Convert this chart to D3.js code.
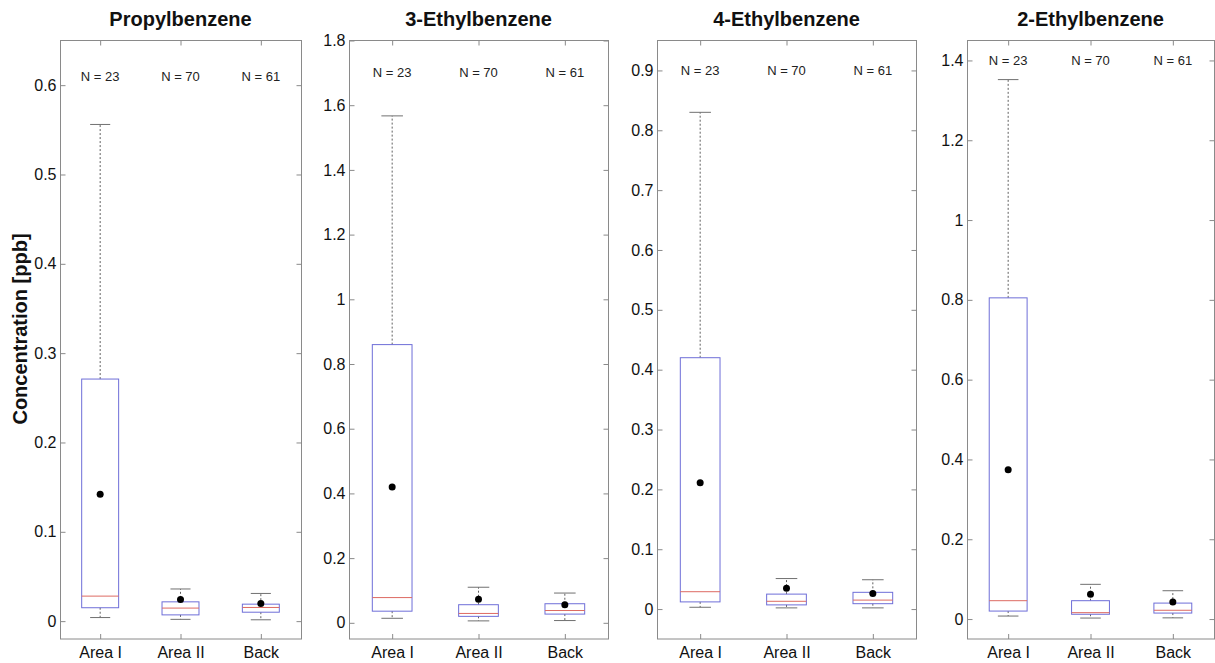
<!DOCTYPE html>
<html>
<head>
<meta charset="utf-8">
<script src="https://cdn.jsdelivr.net/npm/d3@7"></script>
<style>
  html, body { margin: 0; padding: 0; background: #fff; }
  svg { display: block; font-family: "Liberation Sans", Arial, Helvetica, sans-serif; }
</style>
</head>
<body>
<svg id="chart" width="1215" height="663"></svg>
<script>
// Compounds (one panel each) and sampling groups
const compounds = ["Propylbenzene", "3-Ethylbenzene", "4-Ethylbenzene", "2-Ethylbenzene"];
const groups = ["Area I", "Area II", "Back"];
const counts = [23, 70, 61];

// Box statistics per compound, per group (ppb)
const lowerWhisker = [
  [0.004, 0.002, 0.0015],
  [0.014, 0.006, 0.007],
  [0.003, 0.002, 0.002],
  [0.0075, 0.0025, 0.003]
];
const quartile1 = [
  [0.015, 0.007, 0.010],
  [0.036, 0.020, 0.027],
  [0.012, 0.007, 0.009],
  [0.020, 0.012, 0.015]
];
const medians = [
  [0.028, 0.0146, 0.0153],
  [0.078, 0.029, 0.038],
  [0.029, 0.013, 0.015],
  [0.046, 0.016, 0.022]
];
const quartile3 = [
  [0.271, 0.0216, 0.019],
  [0.86, 0.056, 0.059],
  [0.42, 0.025, 0.028],
  [0.805, 0.046, 0.040]
];
const upperWhisker = [
  [0.556, 0.036, 0.031],
  [1.567, 0.11, 0.092],
  [0.83, 0.051, 0.049],
  [1.352, 0.087, 0.071]
];
const means = [
  [0.142, 0.0243, 0.0198],
  [0.42, 0.073, 0.056],
  [0.211, 0.035, 0.026],
  [0.374, 0.062, 0.043]
];

// Y axis ranges and ticks per panel
const yDomains = [[-0.02, 0.65], [-0.05, 1.8], [-0.05, 0.95], [-0.05, 1.45]];
const yTickValues = [
  [0, 0.1, 0.2, 0.3, 0.4, 0.5, 0.6],
  [0, 0.2, 0.4, 0.6, 0.8, 1, 1.2, 1.4, 1.6, 1.8],
  [0, 0.1, 0.2, 0.3, 0.4, 0.5, 0.6, 0.7, 0.8, 0.9],
  [0, 0.2, 0.4, 0.6, 0.8, 1, 1.2, 1.4]
];
// Height (in data units) at which the sample counts are written
const countLabelLevel = [0.61, 1.70, 0.90, 1.40];

// Layout
const panelLeft = [60, 349, 657, 967];
const panelRight = [301, 608, 916, 1214];
const plotTop = 40.5, plotBottom = 639;
const tickLen = 5;
const axisColor = "#8a8a8a";
const boxColor = "#6e6ed8";
const medianColor = "#dd6a62";
const whiskerColor = "#606060";

const svg = d3.select("#chart");
const fmt = d => String(Math.round(d * 10) / 10);

compounds.forEach((name, p) => {
  const g = svg.append("g");
  const x = d3.scalePoint().domain(groups).range([panelLeft[p], panelRight[p]]).padding(0.5);
  const y = d3.scaleLinear().domain(yDomains[p]).range([plotBottom, plotTop]);
  const boxW = x.step() * 0.46;
  const capW = x.step() * 0.25;

  // Frame
  g.append("rect")
    .attr("x", panelLeft[p] + 0.5).attr("y", plotTop)
    .attr("width", panelRight[p] - panelLeft[p]).attr("height", plotBottom - plotTop)
    .attr("fill", "none").attr("stroke", axisColor).attr("stroke-width", 1);

  // Left axis with labels, ticks pointing inward
  const left = g.append("g").attr("transform", `translate(${panelLeft[p] + 0.5},0)`)
    .call(d3.axisLeft(y).tickValues(yTickValues[p]).tickFormat(fmt).tickSizeInner(-tickLen).tickSizeOuter(0).tickPadding(4));
  left.select(".domain").remove();
  left.selectAll(".tick line").attr("stroke", axisColor);
  left.selectAll(".tick text").attr("fill", "#111").style("font-size", "16px")
    .attr("x", -4).attr("text-anchor", "end");

  // Right axis mirror ticks
  const right = g.append("g").attr("transform", `translate(${panelRight[p] + 0.5},0)`)
    .call(d3.axisRight(y).tickValues(yTickValues[p]).tickFormat("").tickSizeInner(-tickLen).tickSizeOuter(0));
  right.select(".domain").remove();
  right.selectAll(".tick line").attr("stroke", axisColor);

  // Bottom axis with group labels
  const bottom = g.append("g").attr("transform", `translate(0,${plotBottom})`)
    .call(d3.axisBottom(x).tickSizeInner(-tickLen).tickSizeOuter(0).tickPadding(10));
  bottom.select(".domain").remove();
  bottom.selectAll(".tick line").attr("stroke", axisColor);
  bottom.selectAll(".tick text").attr("fill", "#111").style("font-size", "16px")
    .attr("y", 19).attr("dy", 0);

  // Top axis mirror ticks
  const top = g.append("g").attr("transform", `translate(0,${plotTop})`)
    .call(d3.axisTop(x).tickFormat("").tickSizeInner(-tickLen).tickSizeOuter(0));
  top.select(".domain").remove();
  top.selectAll(".tick line").attr("stroke", axisColor);

  // Title
  g.append("text")
    .attr("x", (panelLeft[p] + panelRight[p]) / 2).attr("y", 26)
    .attr("text-anchor", "middle").style("font-size", "20px").style("font-weight", "bold")
    .attr("fill", "#111").text(name);

  // Boxes
  groups.forEach((grp, i) => {
    const cx = x(grp);
    const lo = lowerWhisker[p][i], q1 = quartile1[p][i], med = medians[p][i],
          q3 = quartile3[p][i], hi = upperWhisker[p][i], mu = means[p][i];
    const b = g.append("g");

    // Whiskers
    b.append("line").attr("x1", cx).attr("x2", cx).attr("y1", y(q3)).attr("y2", y(hi))
      .attr("stroke", whiskerColor).attr("stroke-dasharray", "2,2").attr("stroke-width", 1);
    b.append("line").attr("x1", cx).attr("x2", cx).attr("y1", y(q1)).attr("y2", y(lo))
      .attr("stroke", whiskerColor).attr("stroke-dasharray", "2,2").attr("stroke-width", 1);
    // Caps
    [hi, lo].forEach(v => {
      b.append("line").attr("x1", cx - capW / 2).attr("x2", cx + capW / 2)
        .attr("y1", y(v)).attr("y2", y(v))
        .attr("stroke", "#707070").attr("stroke-width", 1);
    });
    // Box
    b.append("rect")
      .attr("x", cx - boxW / 2).attr("y", y(q3))
      .attr("width", boxW).attr("height", y(q1) - y(q3))
      .attr("fill", "none").attr("stroke", boxColor).attr("stroke-width", 1);
    // Median
    b.append("line").attr("x1", cx - boxW / 2).attr("x2", cx + boxW / 2)
      .attr("y1", y(med)).attr("y2", y(med))
      .attr("stroke", medianColor).attr("stroke-width", 1);
    // Mean
    b.append("circle").attr("cx", cx).attr("cy", y(mu)).attr("r", 3.5).attr("fill", "#000");

    // Sample count
    g.append("text")
      .attr("x", cx).attr("y", y(countLabelLevel[p]))
      .attr("dy", "0.35em").attr("text-anchor", "middle")
      .style("font-size", "13px").attr("fill", "#222")
      .text(`N = ${counts[i]}`);
  });
});

// Shared y-axis label
svg.append("text")
  .attr("transform", "translate(27,329) rotate(-90)")
  .attr("text-anchor", "middle")
  .style("font-size", "20px").style("font-weight", "bold").attr("fill", "#111")
  .text("Concentration [ppb]");
</script>
</body>
</html>
